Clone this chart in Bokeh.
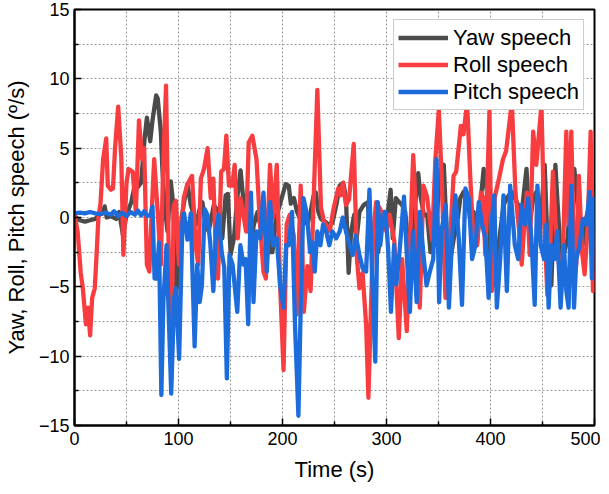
from bokeh.plotting import figure
from bokeh.models import Range1d, FixedTicker, CustomJSTickFormatter, Legend, LegendItem
from bokeh.embed import file_html
from bokeh.resources import INLINE

# ---- data ----
yaw_t = [0, 5, 10, 15, 20, 24, 27, 29, 31, 35, 40, 43, 46.6, 50, 54.6, 57.8, 61, 64, 67.4, 69.6,
         72.8, 75, 78.5, 80, 83, 84.5, 86.5, 89.4, 92.6, 95, 97.5, 100.6, 103, 105.4, 108.6, 111.8,
         114, 117, 120, 123, 126, 129, 134, 138.5, 142.1, 145.3, 147.5, 150.1, 153.3, 156.5, 159.7,
         162.8, 166, 169, 170.5, 172.5, 176, 178.5, 181.7, 185, 188.4, 190.3, 194, 199.2, 203, 206,
         208, 211, 214, 217, 220, 224, 227, 230, 232, 234.5, 237, 241, 244, 248, 252, 255, 258.5,
         261, 263.6, 266, 269, 271, 274, 278, 282, 285, 289, 292, 295, 298, 301, 304, 306, 309,
         312.3, 315, 318, 321, 324.5, 327.5, 330.5, 333, 335.9, 339.1, 342.3, 345.5, 348.7, 351.9,
         355.1, 358.3, 361.5, 364.7, 367.8, 371, 374.2, 377.4, 380.6, 383.8, 387, 390.2, 393.4,
         396.6, 399.8, 403, 406.2, 409.4, 412.6, 415.8, 420.2, 423.4, 426.6, 429.8, 434.6, 437.8,
         441, 444.2, 447.4, 452.1, 455.3, 458.5, 462.4, 464.6, 467.8, 471, 474.2, 477.4, 480.6,
         485.4, 488.6, 491.8, 495, 498.2, 500]
yaw_v = [0.1, -0.2, -0.3, -0.2, -0.1, 0.2, 0.3, 0.8, 0.0, 0.1, -0.1, 0.4, -1.3, 0.2, 1.1, 2.3, 2.2, 2.5, 5.7, 7.2,
         5.5, 7.0, 8.8, 8.6, 6.2, 3.5, 1.0, -1.0, 2.6, 0.9, -5.5, -3.9, 0.0, 1.1, 2.4, 0.9,
         0.4, -0.5, 0.5, 1.1, -0.5, -1.0, 0.9, 0.4, -1.5, 1.6, 1.7, -2.7, -1.5, 1.4, 3.4,
         0.9, -1.0, 0.4, -1.5, -0.5, 0.4, -0.5, 0.9, -0.5, -2.5, -2.5, 0.0, 1.4, 2.4, 2.3,
         1.0, 1.4, 0.4, -0.1, 0.0, -0.5, 0.4, 1.6, 1.8, 0.4, -0.1, -0.3, -0.5, -0.4, 1.0, 2.3, 2.5,
         1.4, -4.0, -1.0, 0.2, -1.7, 0.4, 0.9, 1.1, -2.0, -2.0, -2.5, -0.5, 0.4, 0.2, 2.0, -1.5, 1.4,
         1.1, 0.9, 0.4, -1.9, -2.0, 0.9, 3.2, 1.4, 0.2, 0.2, -2.5, -2.0, 0.4, 3.5,
         3.8, -2.0, -3.0, -1.5, -0.5, 1.4, 1.85, 1.4, -0.1, 0.4, -2.0, 0.9, 3.5,
         1.85, -3.4, -4.9, -3.0, -1.0, 0.9, 1.4, 1.85, 1.4, 0.9, 0.2, 3.5, -0.5,
         1.4, 1.85, -1.0, 3.8, -3.0, -4.9, 3.8, 0.9, -3.0, -2.5, -1.5, 2.3, 3.5,
         -0.5, -2.0, -0.1, 0.9, 1.85, 1.5]

roll_t = [0, 3, 6, 8, 11, 13, 15, 17, 19.5, 21, 23, 25, 27.5, 30.5, 32, 35, 37, 39, 42, 45, 47, 50,
          52, 56, 59, 62, 65, 67, 69.6, 72, 74, 76.6, 80, 83, 85, 88, 90.5, 93, 95.5, 97.5, 100.5,
          105, 108.5, 113, 116.5, 119, 121.5, 124.5, 128, 131, 133.5, 135.7, 138, 141, 143.7, 146,
          148.5, 151.7, 154, 157, 159.6, 162.8, 165, 167.5, 171, 175, 178, 181.7, 184, 188, 191,
          194.5, 197.7, 201, 204, 207, 210.8, 213.6, 217.5, 220.5, 224, 227, 230, 233.5, 237, 240,
          245.5, 249, 253.5, 256, 258, 261, 264, 268.5, 271.5, 274, 277, 280.4, 282.6, 285, 287.4,
          290, 294, 298, 300, 303, 307.5, 311.8, 315, 319.5, 322, 325.7, 328.9, 332, 335.5, 339,
          343.9, 347, 350.3, 353, 356.7, 360, 364.5, 367, 371.5, 374, 377.5, 380.5, 383.5, 387,
          390.8, 393, 395, 399, 401.3, 404, 408.7, 412, 415, 420.5, 424, 428.2, 430, 433, 435,
          437.7, 441, 444, 449, 451.5, 454.7, 457, 460, 463, 466.5, 469.7, 472.9, 475, 477.7, 480,
          482.5, 485, 488, 490.5, 493.5, 496.3, 498.5, 500]
roll_v = [0.2, -1.0, -4.0, -5.1, -7.7, -6.5, -8.5, -5.8, -5.1, -3.0, 0.0, 1.0, 4.2, 5.7, 2.3, 2.0, 2.1, 5.0, 8.0, 4.3, -2.7, 2.5,
          3.5, 3.3, 0.4, 7.0, 4.2, 5.0, -3.4, -3.9, 0.0, 4.2, 0.4, -3.4, 3.0, 9.5, -2.0, -9.8, 0.9, 1.2, -3.4,
          1.4, 2.4, 3.0, -2.0, -3.4, 2.8, 3.5, 5.0, 1.4, 2.8, -2.0, -4.4, 3.3, 3.5, 5.9,
          2.3, 2.3, 3.8, -1.5, 1.4, 0.0, -1.0, 5.4, 5.9, 4.2, 0.0, -3.9, -4.4, 3.8, 0.0,
          3.8, -4.9, -11.0, -0.5, 0.2, -1.3, -7.0, 2.3, -6.8, -3.5, -5.3, 1.4, 9.2, 0.7, -0.3,
          -1.0, 0.6, 2.1, 1.6, 2.5, 0.9, 1.3, 5.3, -2.9, -5.1, -4.0, -7.7, -13.0, -6.6, -1.0,
          1.1, 0.6, -0.5, -1.0, 0.2, -1.7, -8.7, -3.0, -8.2, -3.0, 4.5, -0.6, -6.5, 2.3, 1.5,
          -1.6, 4.2, 7.8, 3.0, -5.8, -3.0, 3.0, 3.3, 6.6, 6.0, 8.3, 3.0, -1.5, -2.0,
          1.8, 1.4, -2.7, 7.7, -5.3, 1.4, 3.0, 4.2, 4.8, 8.3, 1.8, -1.5, -3.4, 0.0, 1.8,
          -2.7, 6.2, 3.8, 8.1, 0.0, -5.6, -3.0, 3.3, -1.0, -3.9, -2.5, 6.2, -0.5, 6.2, -2.0,
          -3.4, 3.0, -2.5, -4.1, -0.5, 6.2, -5.3, -4.0]

pitch_t = [0, 5, 10, 15, 20, 25, 30, 35, 38, 42, 46, 50, 54, 58, 61, 64, 67, 70, 73, 75, 77, 79, 81.3,
           83.5, 85.5, 88.5, 93, 95.8, 97.5, 100.6, 103.8, 105.4, 108.6, 111.8, 115.5, 118, 120.4,
           122.5, 125.2, 127.8, 130.5, 133.5, 136, 138.5, 141.5, 144, 146.5, 149, 152, 156.5, 159.5,
           162.5, 164.5, 167, 169.7, 172.1, 175, 178.5, 181.7, 184.9, 188.1, 191, 194.5, 197.7, 201,
           203.5, 206, 209.2, 212, 215.3, 217.5, 220.2, 223.5, 226.5, 229, 231, 233.5, 236.5, 239,
           242, 245, 248, 251.6, 255, 258, 261, 264.5, 267.5, 270.5, 274, 277.2, 280.4, 283.6, 286,
           289.2, 291.6, 294, 297, 299, 301.5, 304.3, 307.3, 309.5, 312.5, 316.8, 320, 322.5, 325.5,
           329, 332.1, 335.3, 338.5, 341.7, 344.9, 348.1, 350.6, 352.8, 357, 360, 363, 366.3, 369.5,
           372.6, 375.9, 379.1, 382.3, 385.5, 388.7, 391.9, 395.1, 398.2, 401.4, 403.6, 406.1, 409.3,
           412.5, 415.7, 418.9, 423.4, 426.6, 429.8, 433, 436.2, 439.3, 442.5, 445.1, 448.3, 451.5,
           453.7, 455.9, 458.5, 461.7, 464.2, 467.4, 470.6, 472.9, 475.1, 477.7, 480.3, 482.5, 485.7,
           488.9, 492.1, 495.3, 497.5, 499.5]
pitch_v = [0.3, 0.35, 0.3, 0.4, 0.3, 0.25, 0.35, 0.2, 0.45, 0.1, 0.35, 0.1, 0.4, 0.2, 0.5, 0.15, 0.45, 0.1, 0.2, 0.8, -4.4, -4.4, -1.8,
           -12.8, -6.0, -2.0, -12.7, -5.8, -5.1, -10.2, -0.3, 0.3, -1.6, 0.3, -9.3, -3.4, -6.1,
           -4.9, 0.6, 0.2, -1.8, -5.3, -1.0, 0.2, -2.5, -3.6, -11.6, -2.7, -3.4, -6.8, -2.0,
           -3.4, -3.0, -7.7, 1.8, -6.1, -1.0, -1.5, 1.8, -3.9, 1.1, -2.0, -1.5, -4.9, -6.5,
           -2.0, -2.0, 0.4, -7.7, -14.3, -6.5, 1.4, 0.2, -2.5, -1.8, -3.9, -1.0, -2.0, -0.5,
           -1.0, -2.0, -1.0, -1.5, -1.0, 0.0, -1.0, -2.0, -2.7, -1.3, -2.7, -3.7, -3.9, 2.0, -3.9,
           -10.4, 1.1, -2.0, 0.2, 0.4, -2.2, -6.8, -2.0, -4.8, -2.5, 1.5, -3.4, -6.8, -1.0,
           -6.1, 0.4, -2.5, -4.9, -3.9, -3.0, 4.2, -6.1, -1.0, 0.9, -6.5, -1.5, 1.6, -1.5,
           -6.3, 2.1, 1.4, -3.0, -2.0, 1.1, -0.5, -1.5, -5.8, -0.1, 1.6, -6.5, -3.0,
           1.6, -5.3, 2.3, -2.0, -3.0, 0.9, -0.5, 1.4, -1.5, -6.3, 2.3, -2.0, -3.0,
           -0.5, -6.5, -2.0, -3.0, -1.0, -6.5, -2.0, -5.3, -6.5, 2.3, -6.5, -3.0, -2.0,
           -0.1, -0.5, 1.85, -4.4, 1.5]

x_ticks = [0, 100, 200, 300, 400, 500]
y_ticks = [-15, -10, -5, 0, 5, 10, 15]

FONT = "Liberation Sans"

p = figure(width=600, height=484, output_backend="svg", toolbar_location=None,
           x_range=Range1d(0, 500), y_range=Range1d(-15, 15),
           min_border_left=68, min_border_right=6, min_border_top=9, min_border_bottom=56)
p.background_fill_color = "white"
p.border_fill_color = "white"
p.outline_line_color = "black"
p.outline_line_width = 2
p.outline_line_alpha = 1

r_yaw = p.line(yaw_t, yaw_v, line_color="#4b4b4b", line_width=4.3, line_join="round")
r_roll = p.line(roll_t, roll_v, line_color="#f83d41", line_width=4.3, line_join="round")
r_pitch = p.line(pitch_t, pitch_v, line_color="#1c6cdc", line_width=4.3, line_join="round")

minus_fmt = CustomJSTickFormatter(code="return tick < 0 ? '\\u2212' + (-tick) : '' + tick;")

p.xaxis.ticker = FixedTicker(ticks=x_ticks, minor_ticks=[50, 150, 250, 350, 450])
p.yaxis.ticker = FixedTicker(ticks=y_ticks, minor_ticks=[-12.5, -7.5, -2.5, 2.5, 7.5, 12.5])
p.yaxis.formatter = minus_fmt

for ax in (p.xaxis[0], p.yaxis[0]):
    ax.axis_line_width = 2
    ax.axis_line_color = "black"
    ax.major_tick_in = 7
    ax.major_tick_out = 0
    ax.minor_tick_in = 4
    ax.minor_tick_out = 0
    ax.major_tick_line_width = 1.5
    ax.minor_tick_line_width = 1.5
    ax.major_label_text_font = FONT
    ax.major_label_text_font_size = "18px"
    ax.major_label_text_color = "black"
    ax.axis_label_text_font = FONT
    ax.axis_label_text_font_size = "22px"
    ax.axis_label_text_font_style = "normal"
    ax.axis_label_text_color = "black"

p.xaxis.axis_label = "Time (s)"
p.yaxis.axis_label = "Yaw, Roll, Pitch speech (\u00ba/s)"
p.xaxis.major_label_standoff = 6
p.yaxis.major_label_standoff = 5
p.xaxis.axis_label_standoff = 9
p.yaxis.axis_label_standoff = 7

for g in (p.xgrid[0], p.ygrid[0]):
    g.grid_line_color = "#9a9a9a"
    g.grid_line_dash = "2 2"
    g.grid_line_width = 1
    g.minor_grid_line_color = "#9a9a9a"
    g.minor_grid_line_dash = "2 2"
    g.minor_grid_line_width = 1

legend = Legend(items=[LegendItem(label="Yaw speech", renderers=[r_yaw]),
                       LegendItem(label="Roll speech", renderers=[r_roll]),
                       LegendItem(label="Pitch speech", renderers=[r_pitch])],
                location="top_right")
legend.margin = 10
legend.padding = 4
legend.spacing = 0
legend.glyph_width = 50
legend.glyph_height = 27
legend.label_height = 27
legend.label_standoff = 5
legend.label_text_font = FONT
legend.label_text_font_size = "22px"
legend.label_text_color = "black"
legend.border_line_color = "#999999"
legend.border_line_width = 1
legend.background_fill_color = "white"
legend.background_fill_alpha = 1
p.add_layout(legend)

open("out.html", "w").write(file_html(p, INLINE))
